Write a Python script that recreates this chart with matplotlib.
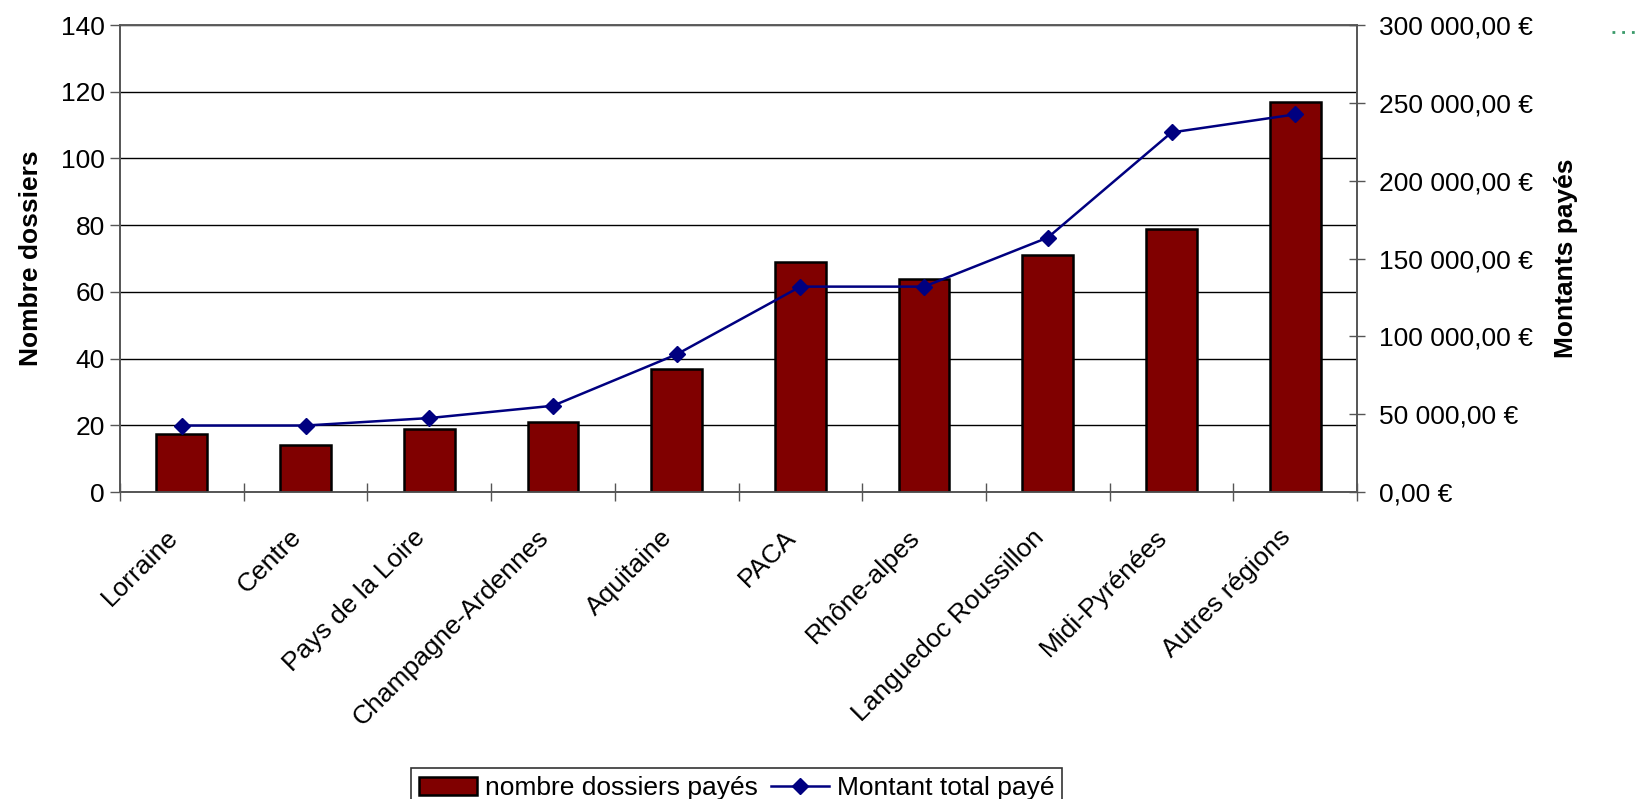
import matplotlib
matplotlib.use("Agg")
import matplotlib.pyplot as plt
import matplotlib.transforms as mtransforms
from matplotlib.lines import Line2D
from matplotlib.ticker import FuncFormatter, FixedLocator
import numpy as np

plt.rcParams["font.family"] = ["Liberation Sans", "DejaVu Sans"]

regions = ["Lorraine", "Centre", "Pays de la Loire", "Champagne-Ardennes",
           "Aquitaine", "PACA", "Rhône-alpes", "Languedoc Roussillon",
           "Midi-Pyrénées", "Autres régions"]
nb_dossiers = [17.3, 14.1, 19, 21, 37, 69, 64, 71, 79, 117]
montants = [42800, 42800, 47600, 55500, 88500, 132000, 132000, 163500,
            231000, 242600]

fig = plt.figure(figsize=(16.37, 7.99), dpi=100)
ax = fig.add_axes([0.0733, 0.384, 0.7557, 0.5847])
ax2 = ax.twinx()

x = np.arange(len(regions))
bars = ax.bar(x, nb_dossiers, width=0.41, color="#800000",
              edgecolor="black", linewidth=1.8, zorder=3,
              label="nombre dossiers payés")
line, = ax2.plot(x, montants, color="#000080", lw=1.8, marker="D",
                 markersize=8, label="Montant total payé", zorder=4)

ax.set_xlim(-0.5, len(regions) - 0.5)
ax.set_ylim(0, 140)
ax2.set_ylim(0, 300000)

ax.set_yticks(range(0, 141, 20))
ax.yaxis.grid(True, color="black", lw=1)
ax.set_axisbelow(True)
ax.tick_params(axis="y", direction="out", length=7, width=1,
               color="#555555", labelsize=19, pad=4)

ax2.set_yticks(range(0, 300001, 50000))
ax2.yaxis.set_major_formatter(FuncFormatter(
    lambda v, p: "{:,.2f} €".format(v).replace(",", " ").replace(".", ",")))
ax2.tick_params(axis="y", direction="inout", length=12, width=1,
                color="#555555", labelsize=19, pad=10)

ax.set_xticks(x)
ax.set_xticklabels(regions, rotation=45, ha="right", va="center",
                   rotation_mode="anchor", fontsize=19)
ax.tick_params(axis="x", which="major", length=0, pad=11)
ax.xaxis.set_minor_locator(FixedLocator(np.arange(-0.5, len(regions), 1.0)))
ax.tick_params(axis="x", which="minor", direction="inout", length=13,
               width=1, color="#555555")
# shift the rotated labels down and slightly left, like the original
offset = mtransforms.ScaledTranslation(-0.08, -0.26, fig.dpi_scale_trans)
for lbl in ax.get_xticklabels():
    lbl.set_transform(lbl.get_transform() + offset)

for a in (ax, ax2):
    for s in a.spines.values():
        s.set_color("#555555")
        s.set_linewidth(1.2)
ax.spines["top"].set_color("#888888")

ax.set_ylabel("Nombre dossiers", fontsize=19, fontweight="bold")
ax.yaxis.set_label_coords(-0.062, 0.5)
ax2.set_ylabel("Montants payés", fontsize=19, fontweight="bold")
ax2.yaxis.set_label_coords(1.159, 0.5)

leg = fig.legend(handles=[bars, line], loc="upper center",
                 bbox_to_anchor=(0.450, 0.055), ncol=2, fontsize=19,
                 frameon=True, fancybox=False, borderpad=0.3,
                 handlelength=2.2, columnspacing=0.5, handletextpad=0.3)
leg.get_frame().set_edgecolor("black")
leg.get_frame().set_linewidth(1.2)

fig.add_artist(Line2D([0.985, 1.0], [0.96, 0.96], color="#3a9a6a",
                      lw=2, ls=(0, (1, 2.5)), transform=fig.transFigure))

fig.savefig("out.png", dpi=100)
